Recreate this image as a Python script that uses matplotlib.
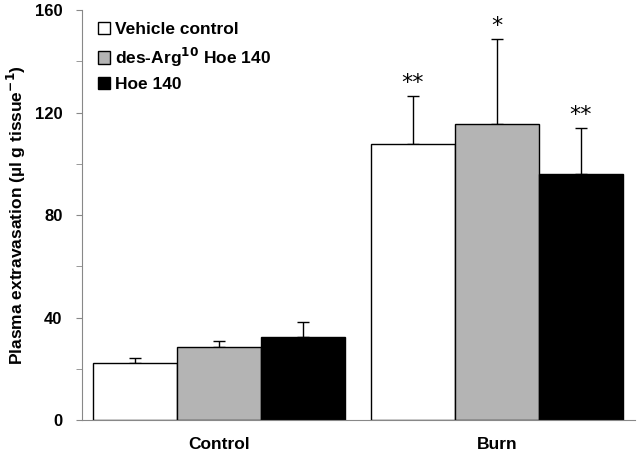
import matplotlib
matplotlib.use('Agg')
import matplotlib.pyplot as plt
import numpy as np

groups = ["Control", "Burn"]
series = ["Vehicle control", "des-Arg$^{10}$ Hoe 140", "Hoe 140"]
colors = ["white", "#b4b4b4", "black"]
means = [
    [22.2, 107.7],   # vehicle
    [28.5, 115.5],   # des-Arg10 Hoe 140
    [32.4, 96.0],    # Hoe 140
]
errs = [
    [2.0, 18.7],
    [2.3, 33.2],
    [5.8, 18.0],
]
stars = [
    ["", "**"],
    ["", "*"],
    ["", "**"],
]

plt.rcParams['font.family'] = ['Liberation Sans', 'DejaVu Sans']
plt.rcParams['font.weight'] = 'bold'

fig = plt.figure(figsize=(6.4, 4.57), dpi=100)
ax = fig.add_axes([0.128, 0.081, 0.864, 0.897])

x = np.arange(len(groups))
width = 0.302
for i, name in enumerate(series):
    pos = x + (i - 1) * width
    ax.bar(pos, means[i], width, color=colors[i], edgecolor="black",
           linewidth=1.0, label=name, zorder=2)
    ax.errorbar(pos, means[i], yerr=[[0] * len(groups), errs[i]], fmt="none",
                ecolor="black", elinewidth=1.0, capsize=4, capthick=1.0, zorder=1)
    for j, s in enumerate(stars[i]):
        if s:
            ax.text(pos[j], means[i][j] + errs[i][j] + 1.2, s, ha="center",
                    va="bottom", fontsize=16, fontweight="normal",
                    family="DejaVu Sans")

ax.set_xlim(-0.493, 1.496)
ax.set_ylim(0, 160)
ax.set_yticks([0, 40, 80, 120, 160])
ax.set_yticks([20, 60, 100, 140], minor=True)
ax.set_xticks(x)
ax.set_xticklabels(groups, fontsize=12.5, fontweight="bold")
ax.tick_params(axis="x", length=0, pad=12)
ax.tick_params(axis="y", which="both", length=4, color="#888888", labelsize=12, pad=10)
for lab in ax.get_yticklabels():
    lab.set_fontweight("bold")
ax.spines["top"].set_visible(False)
ax.spines["right"].set_visible(False)
ax.spines["left"].set_color("#888888")
ax.spines["bottom"].set_color("#888888")
ax.set_ylabel("Plasma extravasation (\u00b5l g tissue$^{-1}$)", fontsize=12.5,
              fontweight="bold", labelpad=5)

ax.legend(loc="upper left", bbox_to_anchor=(0.0, 1.01), frameon=False,
          prop={"size": 12.5, "weight": "bold"}, handlelength=0.7, handleheight=0.7,
          handletextpad=0.3, labelspacing=0.5, borderaxespad=0.5)

fig.savefig("out.png", dpi=100)
